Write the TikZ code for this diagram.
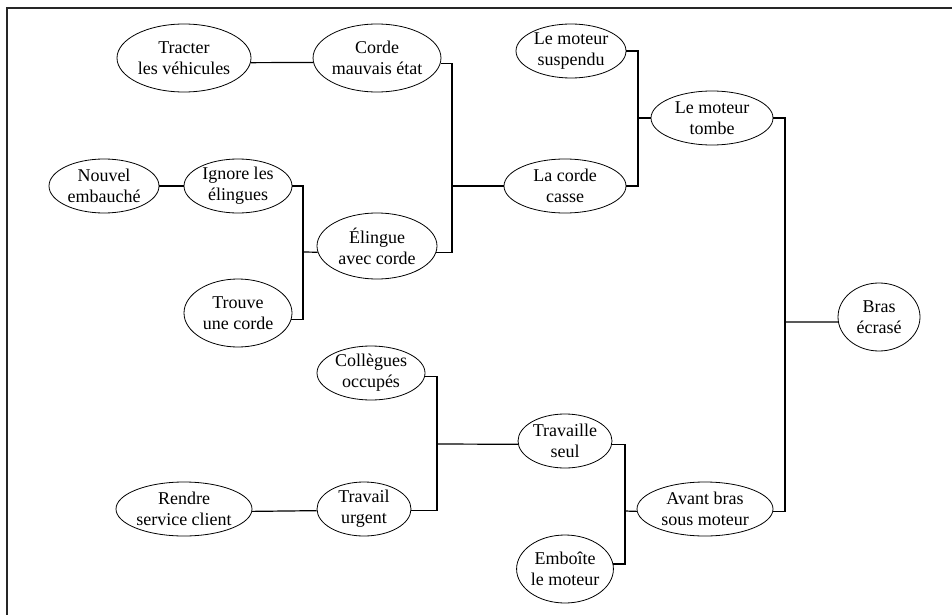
\documentclass[tikz,border=0pt]{standalone}
\usepackage{fontspec}
\setmainfont{Liberation Serif}
\usetikzlibrary{shapes.geometric}
\begin{document}
\begin{tikzpicture}[x=1pt,y=-1pt,
  ev/.style={ellipse,draw=black,line width=0.8pt,inner xsep=0pt,inner ysep=-4pt,
    align=center,font=\fontsize{18}{21}\selectfont},
  conn/.style={draw=black,line width=1.2pt},
  frame/.style={draw=black!85,line width=2pt}]
\useasboundingbox (0,0) rectangle (952,615);
\draw[frame] (7,615) -- (7,8) -- (952,8);
% nodes
\node[ev,minimum width=134pt,minimum height=68pt] (tr) at (184,58) {Tracter\\les véhicules};
\node[ev,minimum width=120pt,minimum height=68pt] (cm) at (377,58) {Corde\\mauvais état};
\node[ev,minimum width=110pt,minimum height=54pt] (ne) at (104,186) {Nouvel\\embauché};
\node[ev,minimum width=108pt,minimum height=54pt] (ig) at (238,186) {Ignore les\\élingues};
\node[ev,minimum width=120pt,minimum height=66pt] (el) at (377,246) {Élingue\\avec corde};
\node[ev,minimum width=108pt,minimum height=68pt] (tc) at (238,313) {Trouve\\une corde};
\node[ev,minimum width=108pt,minimum height=54pt] (co) at (371,373) {Collègues\\occupés};
\node[ev,minimum width=136pt,minimum height=54pt] (rs) at (184,509) {Rendre\\service client};
\node[ev,minimum width=94pt,minimum height=54pt] (tu) at (364,509) {Travail\\urgent};
\node[ev,minimum width=110pt,minimum height=54pt] (ms) at (571,51) {Le moteur\\suspendu};
\node[ev,minimum width=122pt,minimum height=54pt] (mt) at (712,118) {Le moteur\\tombe};
\node[ev,minimum width=122pt,minimum height=54pt] (cc) at (565,186) {La corde\\casse};
\node[ev,minimum width=82pt,minimum height=68pt] (be) at (879,317) {Bras\\écrasé};
\node[ev,minimum width=94pt,minimum height=54pt] (ts) at (565,441) {Travaille\\seul};
\node[ev,minimum width=136pt,minimum height=54pt] (ab) at (705,509) {Avant bras\\sous moteur};
\node[ev,minimum width=94pt,minimum height=68pt] (em) at (565,569) {Emboîte\\le moteur};
% junctions
\coordinate (j1) at (452,186);
\coordinate (j2) at (303,252);
\coordinate (j3) at (638,118);
\coordinate (j4) at (785,322);
\coordinate (j5) at (437,444);
\coordinate (j6) at (625,511);
% connectors
\draw[conn] (tr.-4) -- (cm.184);
\draw[conn] (ne.east) -- (ig.west);
\draw[conn] (rs.-2) -- (tu.182);
\draw[conn] (cm.-5) -| (j1) |- (el.-6);
\draw[conn] (j1) -- (cc.west);
\draw[conn] (ig.east) -| (j2) |- (tc.-7);
\draw[conn] (j2) -- (el.186);
\draw[conn] (ms.east) -| (j3) |- (cc.east);
\draw[conn] (j3) -- (mt.west);
\draw[conn] (mt.east) -| (j4) |- (ab.-2);
\draw[conn] (j4) -- (be.187);
\draw[conn] (co.-4) -| (j5) |- (tu.-2);
\draw[conn] (j5) -- (ts.184);
\draw[conn] (ts.-4) -| (j6) |- (em.6);
\draw[conn] (j6) -- (ab.182);
\end{tikzpicture}
\end{document}
